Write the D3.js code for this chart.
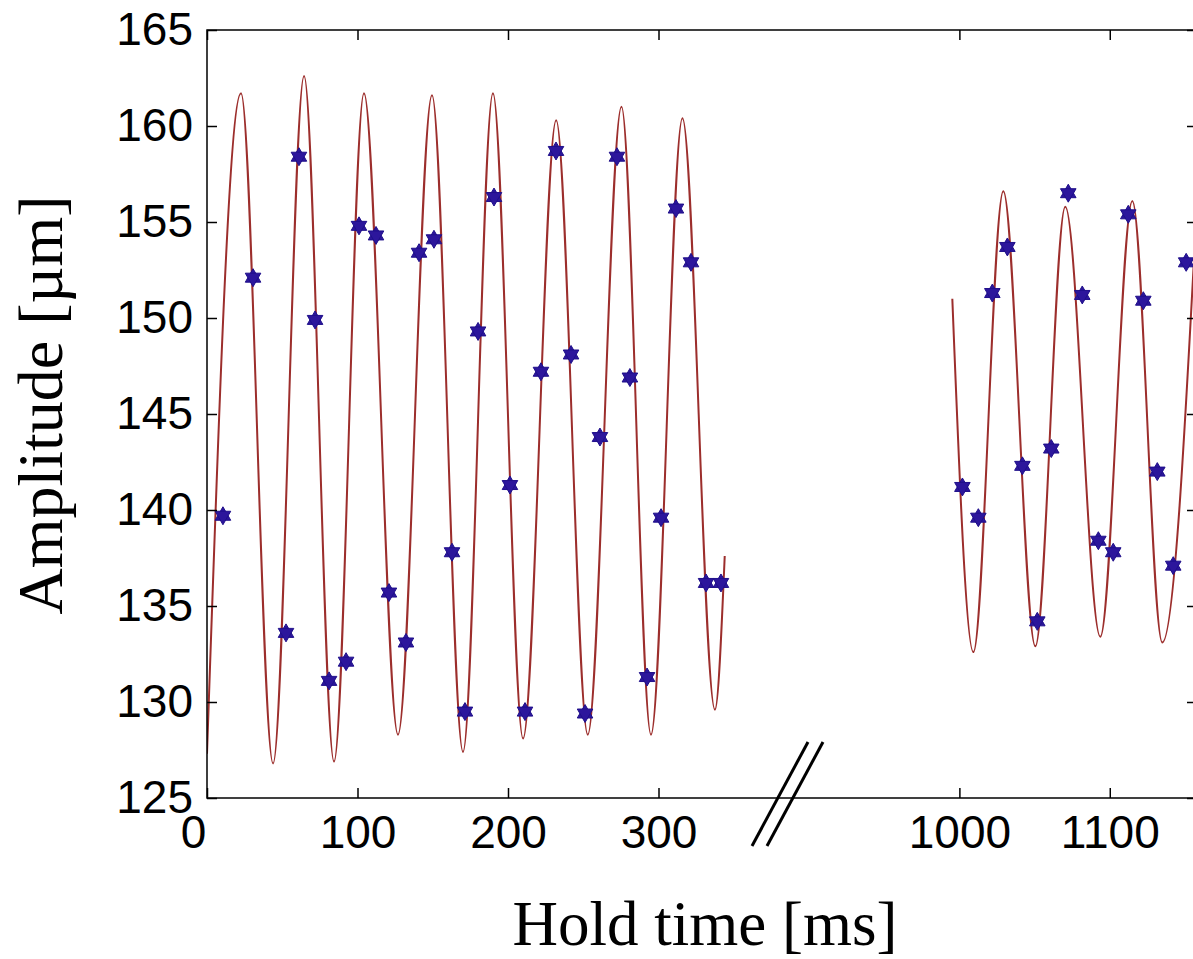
<!DOCTYPE html>
<html>
<head>
<meta charset="utf-8">
<script src="https://cdn.jsdelivr.net/npm/d3@7"></script>
<style>
    body { margin: 0; background: #fff; }
    svg { display: block; }
</style>
</head>
<body>
<svg id="chart"></svg>
<script>
// Measured points (hold time in ms, amplitude in µm)
const dotTimesEarly = [10.6, 30.6, 52.5, 61.1, 71.8, 81.1, 92.4, 101, 112.3, 120.9, 132.2, 140.9, 150.8, 162.8, 171.4, 180.1,
    190.7, 201.3, 211.3, 221.9, 231.9, 241.9, 251.2, 261.1, 272.4, 281, 292.4, 301.7, 311.6, 321.6, 331.6, 341.5];
const dotValuesEarly = [139.7, 152.1, 133.6, 158.4, 149.9, 131.1, 132.1, 154.8, 154.3, 135.7, 133.1, 153.4, 154.1, 137.8, 129.5, 149.3,
    156.3, 141.3, 129.5, 147.2, 158.7, 148.1, 129.4, 143.8, 158.4, 146.9, 131.3, 139.6, 155.7, 152.9, 136.2, 136.2];
const dotTimesLate = [1002, 1012.6, 1021.9, 1031.9, 1041.9, 1051.8, 1061.1, 1072.4, 1081.7, 1092.4, 1102.3, 1112.3, 1122.3, 1131.6, 1142.2, 1150.8];
const dotValuesLate = [141.2, 139.6, 151.3, 153.7, 142.3, 134.2, 143.2, 156.5, 151.2, 138.4, 137.8, 155.4, 150.9, 142.0, 137.1, 152.9];

// Fit curve, read at its turning points
const fitTimesEarly = [0, 22.6, 43.9, 64.5, 84.4, 104.3, 126.9, 149.5, 170.1, 190, 210, 232, 253, 275.4, 295, 315.9, 337.5, 344];
const fitValuesEarly = [127.3, 161.7, 126.8, 162.6, 126.9, 161.7, 128.3, 161.6, 127.4, 161.7, 128.1, 160.3, 128.3, 161.0, 128.3, 160.4, 129.6, 137.6];
const fitTimesLate = [995.3, 1009.3, 1029.2, 1050.5, 1070.4, 1093.7, 1115, 1134.9, 1158];
const fitValuesLate = [151.0, 132.6, 156.6, 132.9, 155.8, 133.4, 156.1, 133.1, 156.0];

const xTicks = [0, 100, 200, 300, 1000, 1100];
const yTicks = [125, 130, 135, 140, 145, 150, 155, 160, 165];

const width = 1193, height = 959;
const plot = {left: 207, right: 1197, top: 30, bottom: 798};

const svg = d3.select('#chart')
    .attr('width', width)
    .attr('height', height);

// broken x axis: 400..900 ms is squeezed out
const x = d3.scaleLinear()
    .domain([0, 400, 900, 1158])
    .range([plot.left, 809, 809, plot.right]);
const y = d3.scaleLinear()
    .domain([125, 165])
    .range([plot.bottom, plot.top]);

const tickFont = '"Liberation Sans", Arial, sans-serif';

svg.append('defs').append('clipPath').attr('id', 'clip')
    .append('rect')
    .attr('x', plot.left).attr('y', plot.top)
    .attr('width', plot.right - plot.left).attr('height', plot.bottom - plot.top);

const zip = (ts, vs) => ts.map((t, i) => ({t, v: vs[i]}));

const line = d3.line()
    .x(d => x(d.t))
    .y(d => y(d.v))
    .curve(d3.curveMonotoneX);

const curves = svg.append('g').attr('clip-path', 'url(#clip)');

[zip(fitTimesEarly, fitValuesEarly), zip(fitTimesLate, fitValuesLate)].forEach(seg => {
    curves.append('path')
        .datum(seg)
        .attr('fill', 'none')
        .attr('stroke', '#9c2e2c')
        .attr('stroke-width', 2)
        .attr('d', line);
});

// hexagram marker: two triangles, one turned over
const tri = d3.symbol(d3.symbolTriangle, 105)();
const dots = curves.selectAll('.dot')
    .data(zip(dotTimesEarly, dotValuesEarly).concat(zip(dotTimesLate, dotValuesLate)))
    .join('g')
    .attr('class', 'dot')
    .attr('transform', d => `translate(${x(d.t)},${y(d.v)})`)
    .attr('fill', '#2c169c')
    .attr('stroke', '#1f0f8a')
    .attr('stroke-width', 1);
dots.append('path').attr('d', tri);
dots.append('path').attr('d', tri).attr('transform', 'rotate(180)');

// axes (ticks point inward, like MATLAB)
function styleAxis(g) {
    g.select('.domain').remove();
    g.selectAll('.tick line').attr('stroke', '#000').attr('stroke-width', 1.5);
    g.selectAll('.tick text')
        .attr('fill', '#000')
        .style('font-family', tickFont)
        .style('font-size', '46px');
}

svg.append('g')
    .attr('transform', `translate(0,${plot.bottom})`)
    .call(d3.axisBottom(x).tickValues(xTicks).tickFormat(d3.format('d'))
        .tickSizeInner(-10).tickSizeOuter(0).tickPadding(17))
    .call(styleAxis)
    .call(g => g.selectAll('.tick text').attr('dx', d => d === 0 ? -14 : 0));

svg.append('g')
    .attr('transform', `translate(0,${plot.top})`)
    .call(d3.axisTop(x).tickValues(xTicks).tickSizeInner(-10).tickSizeOuter(0).tickFormat(''))
    .call(styleAxis);

svg.append('g')
    .attr('transform', `translate(${plot.left},0)`)
    .call(d3.axisLeft(y).tickValues(yTicks).tickSizeInner(-10).tickSizeOuter(0).tickPadding(14))
    .call(styleAxis);

svg.append('g')
    .attr('transform', `translate(${plot.right},0)`)
    .call(d3.axisRight(y).tickValues(yTicks).tickSizeInner(-10).tickSizeOuter(0).tickFormat(''))
    .call(styleAxis);

svg.append('rect')
    .attr('x', plot.left).attr('y', plot.top)
    .attr('width', plot.right - plot.left).attr('height', plot.bottom - plot.top)
    .attr('fill', 'none')
    .attr('stroke', '#000')
    .attr('stroke-width', 1.5);

// axis break mark
const brk = svg.append('g').attr('stroke', '#000').attr('stroke-width', 3);
[0, 15].forEach(off => {
    brk.append('line')
        .attr('x1', 752 + off).attr('y1', 846)
        .attr('x2', 808 + off).attr('y2', 742);
});

// axis titles
svg.append('text')
    .attr('x', 705)
    .attr('y', 945)
    .attr('text-anchor', 'middle')
    .style('font-family', '"Liberation Serif", "Times New Roman", serif')
    .style('font-size', '63px')
    .text('Hold time [ms]');

svg.append('text')
    .attr('transform', 'translate(62,405) rotate(-90)')
    .attr('text-anchor', 'middle')
    .style('font-family', '"Liberation Serif", "Times New Roman", serif')
    .style('font-size', '64px')
    .text('Amplitude [µm]');
</script>
</body>
</html>
